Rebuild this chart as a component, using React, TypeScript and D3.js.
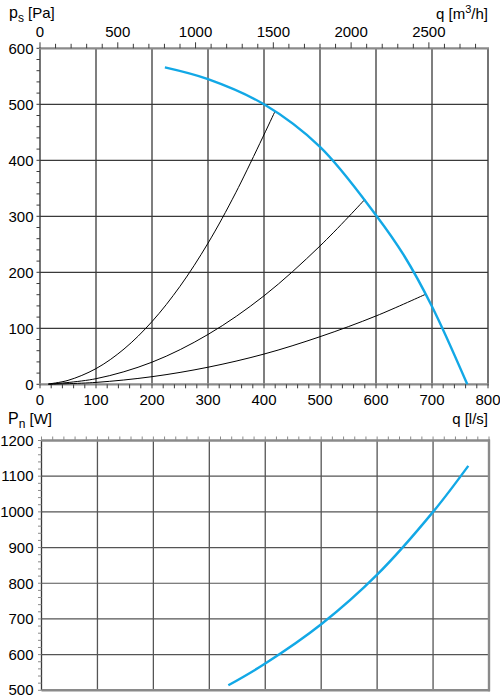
import React from "react";
import * as d3 from "d3";

// ---- Data ----
// Fan curve: flow q [l/s] vs static pressure ps [Pa]
const fanQ = [223, 300, 400, 500, 600, 650, 700, 763];
const fanPs = [566, 545, 500, 424, 302, 230, 139, 0];

// System curves (black)
const sys1Q = [15, 50, 100, 150, 200, 250, 300, 350, 419];
const sys1Ps = [0.6, 7, 28, 63, 112, 175, 252, 343, 486];
const sys2Q = [15, 100, 200, 300, 400, 500, 580];
const sys2Ps = [0.2, 10, 39.5, 89, 158, 247, 330];
const sys3Q = [15, 100, 200, 300, 400, 500, 600, 689];
const sys3Ps = [0.1, 3.4, 13.6, 30.5, 54, 85, 122, 161];

// Power curve: q [l/s] vs Pn [W]
const powQ = [334, 400, 500, 600, 700, 763];
const powW = [514, 575, 685, 824, 1000, 1129];

// Tick labels
const qTicks = [0, 100, 200, 300, 400, 500, 600, 700, 800];
const m3hTicks = [0, 500, 1000, 1500, 2000, 2500];
const psTicks = [0, 100, 200, 300, 400, 500, 600];
const wTicks = [500, 600, 700, 800, 900, 1000, 1100, 1200];

const FONT = "'Liberation Sans', Arial, sans-serif";
const BLUE = "#12a8e6";
const GRID = "#3a3a3a";
const VGRID = "#555";
const AXIS = "#8a8a8a";

export default function App() {
  // top chart scales
  const x1 = d3.scaleLinear().domain([0, 800]).range([40, 488]);
  const xm = d3.scaleLinear().domain([0, 2880]).range([40, 488]);
  const y1 = d3.scaleLinear().domain([0, 600]).range([384.3, 48.3]);
  // bottom chart scales
  const x2 = d3.scaleLinear().domain([0, 800]).range([41.5, 489]);
  const y2 = d3.scaleLinear().domain([500, 1200]).range([690.3, 440.5]);

  const line1 = d3
    .line<[number, number]>()
    .x((d) => x1(d[0]))
    .y((d) => y1(d[1]))
    .curve(d3.curveCatmullRom.alpha(0.5));
  const line2 = d3
    .line<[number, number]>()
    .x((d) => x2(d[0]))
    .y((d) => y2(d[1]))
    .curve(d3.curveCatmullRom.alpha(0.5));

  const zip = (a: number[], b: number[]) => a.map((v, i) => [v, b[i]] as [number, number]);

  const minorQ = d3.range(0, 801, 20);
  const minorM = d3.range(0, 2801, 100);
  const minorPs = d3.range(0, 601, 20);
  const minorW = d3.range(500, 1201, 20);

  return (
    <svg
      width={500}
      height={697}
      style={{ position: "absolute", left: 0, top: 0, background: "#fff" }}
      fontFamily={FONT}
    >
      {/* ===== TOP CHART ===== */}
      {qTicks.slice(1, -1).map((q) => (
        <line key={"v1" + q} x1={x1(q)} x2={x1(q)} y1={y1(600)} y2={y1(0)} stroke={VGRID} strokeWidth={1.5} />
      ))}
      {psTicks.slice(1, -1).map((p) => (
        <line key={"h1" + p} x1={x1(0)} x2={x1(800)} y1={y1(p)} y2={y1(p)} stroke={GRID} strokeWidth={1.2} />
      ))}
      <line x1={x1(800)} x2={x1(800)} y1={y1(600)} y2={y1(0)} stroke={GRID} strokeWidth={1.4} />
      <line x1={x1(0)} x2={x1(0)} y1={y1(600)} y2={y1(0)} stroke={GRID} strokeWidth={1.4} />
      {minorPs.map((p) => (
        <line key={"lt" + p} x1={x1(0) - 3.5} x2={x1(0)} y1={y1(p)} y2={y1(p)} stroke={GRID} strokeWidth={1} />
      ))}
      <line x1={x1(0) - 1} x2={x1(800) + 1} y1={y1(0)} y2={y1(0)} stroke={AXIS} strokeWidth={2.2} />
      {minorQ.map((q) => (
        <line key={"bt" + q} x1={x1(q)} x2={x1(q)} y1={y1(0)} y2={y1(0) + 4} stroke={GRID} strokeWidth={1} />
      ))}
      <line x1={x1(0) - 1} x2={x1(800) + 1} y1={y1(600)} y2={y1(600)} stroke={AXIS} strokeWidth={2.2} />
      {minorM.map((m) => (
        <line
          key={"tt" + m}
          x1={xm(m)}
          x2={xm(m)}
          y1={y1(600)}
          y2={y1(600) - (m % 500 === 0 ? 6 : 4.5)}
          stroke={GRID}
          strokeWidth={1}
        />
      ))}
      {[zip(sys1Q, sys1Ps), zip(sys2Q, sys2Ps), zip(sys3Q, sys3Ps)].map((d, i) => (
        <path key={"s" + i} d={line1(d) || ""} fill="none" stroke="#000" strokeWidth={1} />
      ))}
      <path d={line1(zip(fanQ, fanPs)) || ""} fill="none" stroke={BLUE} strokeWidth={2.4} />

      {psTicks.map((p) => (
        <text key={"pl" + p} x={33.5} y={y1(p) + 5.3} textAnchor="end" fontSize={15}>
          {p}
        </text>
      ))}
      {qTicks.map((q) => (
        <text key={"ql" + q} x={x1(q)} y={405} textAnchor="middle" fontSize={15}>
          {q}
        </text>
      ))}
      {m3hTicks.map((m) => (
        <text key={"ml" + m} x={xm(m)} y={36.5} textAnchor="middle" fontSize={15}>
          {m}
        </text>
      ))}
      <text x={9} y={18} fontSize={16}>
        p<tspan fontSize={12} dy={4}>s</tspan>
        <tspan dy={-4} fontSize={15}> [Pa]</tspan>
      </text>
      <text x={488} y={18.5} textAnchor="end" fontSize={15}>
        q [m<tspan fontSize={11} dy={-6}>3</tspan>
        <tspan dy={6}>/h]</tspan>
      </text>
      <text x={488} y={423.5} textAnchor="end" fontSize={15}>
        q [l/s]
      </text>

      {/* ===== BOTTOM CHART ===== */}
      {qTicks.slice(1, -1).map((q) => (
        <line key={"v2" + q} x1={x2(q)} x2={x2(q)} y1={y2(1200)} y2={y2(500)} stroke={VGRID} strokeWidth={1.3} />
      ))}
      {wTicks.slice(1, -1).map((w) => (
        <line key={"h2" + w} x1={x2(0)} x2={x2(800)} y1={y2(w)} y2={y2(w)} stroke={VGRID} strokeWidth={1.2} />
      ))}
      <line x1={x2(0)} x2={x2(0)} y1={y2(1200)} y2={y2(500)} stroke={GRID} strokeWidth={1.3} />
      {minorW.map((w) => (
        <line key={"lw" + w} x1={x2(0) - 3.5} x2={x2(0)} y1={y2(w)} y2={y2(w)} stroke={AXIS} strokeWidth={1} />
      ))}
      <line x1={x2(0)} x2={x2(800) + 1} y1={y2(1200)} y2={y2(1200)} stroke={AXIS} strokeWidth={2.4} />
      {minorQ.map((q) => (
        <line key={"t2" + q} x1={x2(q)} x2={x2(q)} y1={y2(1200)} y2={y2(1200) - 4} stroke={AXIS} strokeWidth={1} />
      ))}
      <line x1={x2(800)} x2={x2(800)} y1={y2(1200) - 1} y2={y2(500) + 1} stroke={AXIS} strokeWidth={2.4} />
      <line x1={x2(0)} x2={x2(800) + 1} y1={y2(500)} y2={y2(500)} stroke={AXIS} strokeWidth={2.4} />
      <path d={line2(zip(powQ, powW)) || ""} fill="none" stroke={BLUE} strokeWidth={2.4} />
      {wTicks.map((w) => (
        <text key={"wl" + w} x={33.5} y={Math.min(y2(w) + 5.3, 695)} textAnchor="end" fontSize={15}>
          {w}
        </text>
      ))}
      <text x={8} y={424} fontSize={16}>
        P<tspan fontSize={12} dy={4}>n</tspan>
        <tspan dy={-4} fontSize={15}> [W]</tspan>
      </text>
    </svg>
  );
}
